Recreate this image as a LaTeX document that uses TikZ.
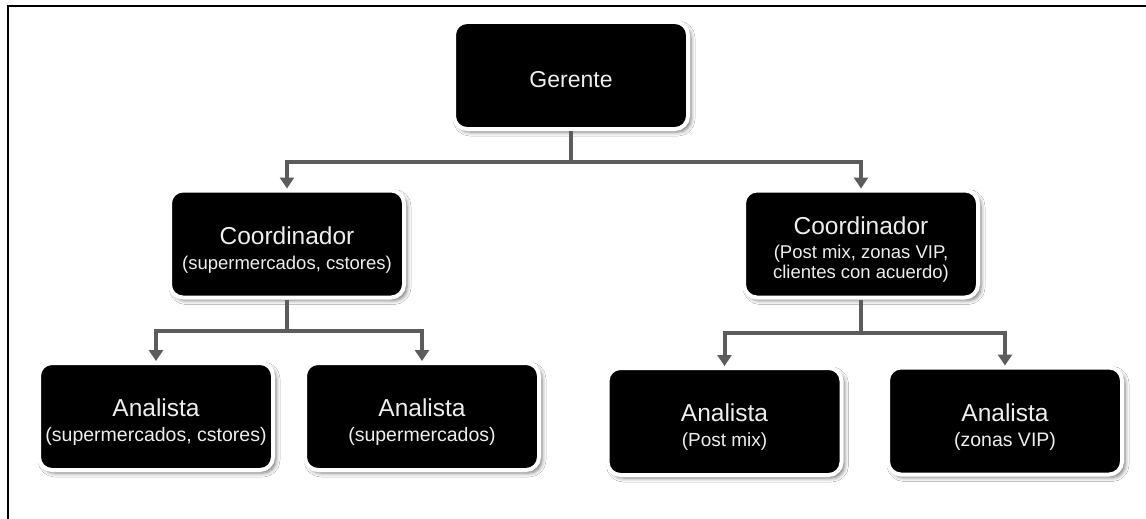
\documentclass[tikz,border=0pt]{standalone}
\usepackage{fontspec}
\setmainfont{Liberation Sans}
\usetikzlibrary{arrows.meta,shadows.blur}

\definecolor{linkgray}{HTML}{5C5C5C}
\definecolor{labelwhite}{HTML}{EEEEEE}

\newcommand{\titlefont}{\fontsize{24.5}{26}\selectfont}
\newcommand{\subfont}{\fontsize{18.5}{20.5}\selectfont}

\tikzset{
  orgbox/.style={rectangle, rounded corners=13pt, fill=black, draw=white,
    line width=4pt, minimum width=234pt, minimum height=107pt, inner sep=0pt,
    blur shadow={shadow xshift=3pt, shadow yshift=-3pt,
      shadow blur radius=4pt, shadow opacity=55}},
  boxtext/.style={text=labelwhite, align=center, inner sep=0pt, font=\subfont},
  link/.style={draw=linkgray, line width=4pt},
  linkarrow/.style={link, -{Triangle[width=14pt,length=11pt]}}
}

\begin{document}
\begin{tikzpicture}[x=1pt,y=-1pt]
  \useasboundingbox (0,0) rectangle (1146,519);
  \fill[white] (0,0) rectangle (1146,519);

  % page frame (top and left edges)
  \draw[line width=2.2pt] (8,519) -- (8,6) -- (1146,6);

  % boxes
  \node[orgbox] (ger) at (571,75.5) {};
  \node[orgbox] (co1) at (287,244) {};
  \node[orgbox] (co2) at (861,244) {};
  \node[orgbox] (an1) at (156,416.5) {};
  \node[orgbox] (an2) at (422,416.5) {};
  \node[orgbox] (an3) at (724.5,421.5) {};
  \node[orgbox] (an4) at (1005,421) {};

  % box texts
  \node[boxtext, font=\fontsize{23}{25}\selectfont] (gert) at ([yshift=-4pt]ger.center) {Gerente};
  \node[boxtext] (co1t) at ([yshift=-6pt]co1.center)
    {{\titlefont Coordinador}\\[4pt](supermercados, cstores)};
  \node[boxtext] (co2t) at ([yshift=-6pt]co2.center)
    {{\titlefont Coordinador}\\[3pt](Post mix, zonas VIP,\\clientes con acuerdo)};
  \node[boxtext, font=\fontsize{19.5}{21}\selectfont] (an1t) at ([yshift=-6pt]an1.center)
    {{\titlefont Analista}\\[4pt](supermercados, cstores)};
  \node[boxtext, font=\fontsize{19.5}{21}\selectfont] (an2t) at ([yshift=-6pt]an2.center)
    {{\titlefont Analista}\\[4pt](supermercados)};
  \node[boxtext, font=\fontsize{19}{21}\selectfont] (an3t) at ([yshift=-6pt]an3.center)
    {{\titlefont Analista}\\[4pt](Post mix)};
  \node[boxtext, font=\fontsize{19.5}{21}\selectfont] (an4t) at ([yshift=-6pt]an4.center)
    {{\titlefont Analista}\\[4pt](zonas VIP)};

  % bus coordinates
  \coordinate (busg) at (572,162);
  \coordinate (bus1) at (289,331);
  \coordinate (bus2) at (862,333);

  % connectors
  \draw[link] (ger.south) -- (ger.south |- busg);
  \draw[linkarrow] (ger.south |- busg) -| (co1.north);
  \draw[linkarrow] (ger.south |- busg) -| (co2.north);

  \draw[link] (co1.south) -- (co1.south |- bus1);
  \draw[linkarrow] (co1.south |- bus1) -| (an1.north);
  \draw[linkarrow] (co1.south |- bus1) -| (an2.north);

  \draw[link] (co2.south) -- (co2.south |- bus2);
  \draw[linkarrow] (co2.south |- bus2) -| (an3.north);
  \draw[linkarrow] (co2.south |- bus2) -| (an4.north);
\end{tikzpicture}
\end{document}
